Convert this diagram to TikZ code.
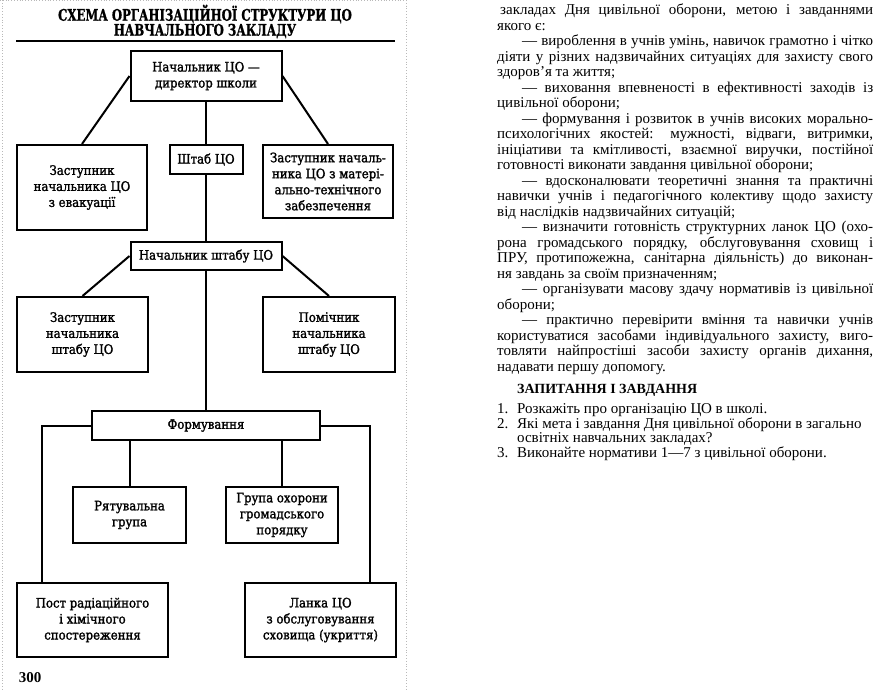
\documentclass[tikz,border=0pt]{standalone}
\usepackage{fontspec}
\setmainfont{Liberation Serif}
\newfontfamily\boxfont{DejaVu Serif}[FakeStretch=0.9, FakeBold=1.6]
\newfontfamily\headfont{DejaVu Serif}[FakeStretch=0.73, FakeBold=1]

\tikzset{
  unit/.style={draw, line width=2pt, align=center, inner sep=0pt,
    font=\boxfont\fontsize{13}{16}\selectfont},
  link/.style={line width=2pt},
  frame/.style={gray!55, dotted, line width=0.8pt},
  prose/.style={anchor=north west, inner sep=0pt,
    font=\fontsize{15}{15.5}\selectfont}
}

\begin{document}
\begin{tikzpicture}[x=1pt, y=-1pt]
  \useasboundingbox (0,0) rectangle (878,691);

  % dotted page frame
  \draw[frame] (0,0.5) -- (405,0.5);
  \draw[frame] (2,0) -- (2,691);
  \draw[frame] (406,0) -- (406,691);

  % title
  \node[font=\headfont\bfseries\fontsize{16}{17}\selectfont, inner sep=0pt] (title1) at (205,14) {СХЕМА ОРГАНІЗАЦІЙНОЇ СТРУКТУРИ ЦО};
  \node[font=\headfont\bfseries\fontsize{16}{17}\selectfont, inner sep=0pt] (title2) at (205,31) {НАВЧАЛЬНОГО ЗАКЛАДУ};
  \coordinate (R1) at (16,41);
  \coordinate (R2) at (395,41);
  \draw[line width=2pt] (R1) -- (R2);

  % boxes
  \node[unit, minimum width=151, minimum height=50] (chief) at (206,76) {Начальник ЦО —\\директор школи};
  \node[unit, minimum width=130, minimum height=85] (evac) at (82,187.5) {Заступник\\начальника ЦО\\з евакуації};
  \node[unit, minimum width=73, minimum height=29] (staff) at (206,159.5) {Штаб ЦО};
  \node[unit, minimum width=130, minimum height=73] (supply) at (328,181.5) {Заступник началь-\\ника ЦО з матері-\\ально-технічного\\забезпечення};

  \node[unit, minimum width=151, minimum height=28] (shchief) at (206,256) {Начальник штабу ЦО};
  \node[unit, minimum width=131, minimum height=75] (deputy) at (82.5,334.5) {Заступник\\начальника\\штабу ЦО};
  \node[unit, minimum width=132, minimum height=75] (assist) at (329,334.5) {Помічник\\начальника\\штабу ЦО};

  \node[unit, minimum width=228, minimum height=29] (forms) at (206,425.5) {Формування};
  \node[unit, minimum width=113, minimum height=56] (rescue) at (129.5,515) {Рятувальна\\група};
  \node[unit, minimum width=112, minimum height=56] (guard) at (282,515) {Група охорони\\громадського\\порядку};
  \node[unit, minimum width=151, minimum height=74] (post) at (92.5,620) {Пост радіаційного\\і хімічного\\спостереження};
  \node[unit, minimum width=151, minimum height=74] (shelter) at (320.5,620) {Ланка ЦО\\з обслуговування\\сховища (укриття)};

  % connectors
  \draw[link] (chief.west) -- (evac.north);
  \draw[link] (chief.east) -- (supply.north);
  \draw[link] (chief.south) -- (staff.north);
  \draw[link] (staff.south) -- (shchief.north);
  \draw[link] (shchief.west) -- (deputy.north);
  \draw[link] (shchief.east) -- (assist.north);
  \draw[link] (shchief.south) -- (forms.north);
  \draw[link] (forms.west) -| ([xshift=26pt]post.north west);
  \draw[link] (forms.east) -| ([xshift=-27pt]shelter.north east);
  \draw[link] (rescue.north |- forms.south) -- (rescue.north);
  \draw[link] (guard.north |- forms.south) -- (guard.north);

  \node[font=\bfseries\fontsize{15}{15}\selectfont, inner sep=0pt] (page) at (30,678) {300};

  % text column
  \node[prose, text width=376pt, align=justify] (body) at (497,4) {%
    \setlength{\parindent}{0pt}\tolerance=10000\hyphenpenalty=10000\exhyphenpenalty=10000
    \hspace*{3pt}закладах Дня цивільної оборони, метою і завданнями\linebreak
    якого є:\par
    \hspace*{25pt}— вироблення в учнів умінь, навичок грамотно і чітко\linebreak
    діяти у різних надзвичайних ситуаціях для захисту свого\linebreak
    здоров'я та життя;\par
    \hspace*{25pt}— виховання впевненості в ефективності заходів із\linebreak
    цивільної оборони;\par
    \hspace*{25pt}— формування і розвиток в учнів високих морально-\linebreak
    психологічних якостей: мужності, відваги, витримки,\linebreak
    ініціативи та кмітливості, взаємної виручки, постійної\linebreak
    готовності виконати завдання цивільної оборони;\par
    \hspace*{25pt}— вдосконалювати теоретичні знання та практичні\linebreak
    навички учнів і педагогічного колективу щодо захисту\linebreak
    від наслідків надзвичайних ситуацій;\par
    \hspace*{25pt}— визначити готовність структурних ланок ЦО (охо-\linebreak
    рона громадського порядку, обслуговування сховищ і\linebreak
    ПРУ, протипожежна, санітарна діяльність) до виконан-\linebreak
    ня завдань за своїм призначенням;\par
    \hspace*{25pt}— організувати масову здачу нормативів із цивільної\linebreak
    оборони;\par
    \hspace*{25pt}— практично перевірити вміння та навички учнів\linebreak
    користуватися засобами індивідуального захисту, виго-\linebreak
    товляти найпростіші засоби захисту органів дихання,\linebreak
    надавати першу допомогу.\par};

  \node[anchor=west, inner sep=0pt, font=\bfseries\fontsize{14}{14}\selectfont] (quiz) at (517,390) {ЗАПИТАННЯ І ЗАВДАННЯ};
  \node[prose, font=\fontsize{15}{13.9}\selectfont] (tasks) at (497,403) {%
    \begin{tabular}{@{}p{20pt}@{}l@{}}
      1. & Розкажіть про організацію ЦО в школі.\\
      2. & Які мета і завдання Дня цивільної оборони в загально\\
         & освітніх навчальних закладах?\\
      3. & Виконайте нормативи 1—7 з цивільної оборони.
    \end{tabular}};
\end{tikzpicture}
\end{document}
